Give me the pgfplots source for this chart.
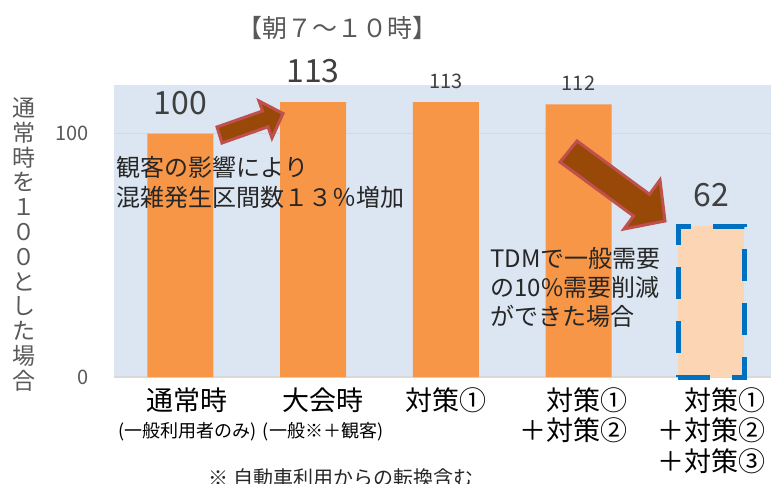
\documentclass[border=0pt]{standalone}
\usepackage{fontspec}
\setmainfont{Noto Sans CJK JP}
\usepackage{pgfplots}
\pgfplotsset{compat=1.18}
\definecolor{barorange}{HTML}{F79646}
\definecolor{barpeach}{HTML}{FCD5B5}
\definecolor{bgblue}{HTML}{DCE6F2}
\definecolor{dashblue}{HTML}{0070C0}
\definecolor{arrowfill}{HTML}{984807}
\definecolor{arrowedge}{HTML}{C0504D}
\definecolor{gridgray}{HTML}{D9D9D9}
\definecolor{txtgray}{HTML}{595959}
\definecolor{valgray}{HTML}{404040}
\definecolor{txtdark}{HTML}{262626}
\begin{document}
\begin{tikzpicture}
\useasboundingbox (-114pt,-106pt) rectangle (657pt,377pt);
\begin{axis}[
  at={(0pt,0pt)}, anchor=south west,
  scale only axis, width=657pt, height=292pt,
  xmin=-0.5, xmax=4.45, ymin=0, ymax=120,
  enlargelimits=false, clip=false,
  axis background/.style={fill=bgblue},
  axis x line*=bottom, axis y line*=left,
  x axis line style={gridgray, line width=2pt},
  y axis line style={draw=none},
  major tick length=0pt,
  ymajorgrids, grid style={gridgray, line width=1.2pt},
  ytick={0,100}, yticklabels={0,100},
  /pgf/number format/assume math mode=true,
  yticklabel style={font=\fontsize{20}{22}\selectfont, text=txtgray, xshift=-22pt},
  xtick={0.053,1.075,2,2.96,4},
  xticklabels={
    {通常時\\[-3.5pt]{\fontsize{18}{20}\selectfont(一般利用者のみ)}},
    {大会時\\[-3.5pt]{\fontsize{18}{20}\selectfont(一般※＋観客)}},
    {対策①},
    {\phantom{＋}対策①\\＋対策②},
    {\phantom{＋}対策①\\＋対策②\\＋対策③}},
  xticklabel style={font=\fontsize{27}{30.5}\selectfont, text=black, align=center, anchor=north, yshift=-7pt},
  ybar, bar width=66pt,
]
\addplot[ybar, bar shift=0pt, fill=barorange, draw=none,
  nodes near coords,
  every node near coord/.append style={font=\fontsize{32}{34}\selectfont, text=valgray, anchor=center, yshift=31pt}]
  coordinates {(0,100) (1,113)};
\addplot[ybar, bar shift=0pt, fill=barorange, draw=none,
  nodes near coords,
  every node near coord/.append style={font=\fontsize{20}{22}\selectfont, text=valgray, anchor=center, yshift=21pt}]
  coordinates {(2,113) (3,112)};
\addplot[ybar, bar shift=0pt, fill=barpeach, draw=dashblue, line width=5pt, dash pattern=on 32pt off 22pt,
  nodes near coords,
  every node near coord/.append style={font=\fontsize{32}{34}\selectfont, text=valgray, anchor=center, yshift=31pt}]
  coordinates {(4,62)};
\end{axis}
\begin{scope}[shift={(-114pt,377pt)}, x=1pt, y=-1pt]
  \node[font=\fontsize{25}{28}\selectfont, text=txtgray] at (337,28) {【朝７～１０時】};
  \node[font=\fontsize{23}{24.8}\selectfont, text=txtgray, align=center] at (24,244.5)
    {通\\常\\時\\を\\１\\０\\０\\と\\し\\た\\場\\合};
  \node[anchor=west, align=left, font=\fontsize{24}{30}\selectfont, text=txtdark] at (113,182)
    {観客の影響により\\混雑発生区間数１３％増加};
  \node[anchor=west, align=left, font=\fontsize{24}{29}\selectfont, text=txtdark] at (487,287)
    {TDMで一般需要\\の10\%需要削減\\ができた場合};
  \node[anchor=west, font=\fontsize{20}{24}\selectfont, text=txtdark] at (205,478)
    {※ 自動車利用からの転換含む};
  \draw[arrowedge, fill=arrowfill, line width=3pt, line join=miter]
    (217,127) -- (262.5,111) -- (259,101) -- (283,113.5) -- (272,138) -- (268,126.8) -- (222,143) -- cycle;
  \draw[arrowedge, fill=arrowfill, line width=3pt, line join=miter]
    (577,141) -- (649.5,194.3) -- (660,180) -- (665,221) -- (624,229) -- (633.5,216) -- (560,162) -- cycle;
\end{scope}
\end{tikzpicture}
\end{document}
